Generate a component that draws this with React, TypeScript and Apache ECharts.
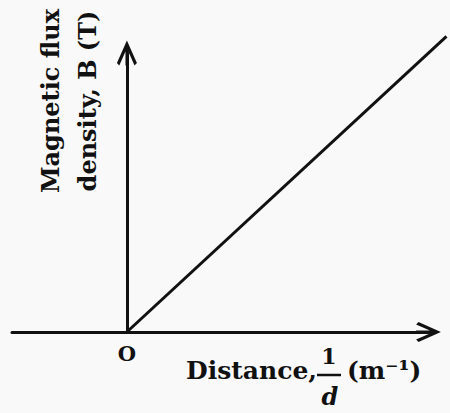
import React, { useEffect, useRef } from "react";
import * as echarts from "echarts";

// Straight-line relation B ∝ 1/d, drawn from the origin
const distanceInv: number[] = [0, 10.6];
const fluxDensity: number[] = [0, 10.6];

// Visible axes (arbitrary units)
const xRange: number[] = [-3.81, 10];
const yRange: number[] = [0, 10];
// The plotted line runs a little past the arrow heads, so it sits on a
// slightly larger, hidden grid that keeps the same scale per unit.
const lineXRange: number[] = [-3.81, 10.65];
const lineYRange: number[] = [0, 10.65];

const yTitleLines: string[] = ["Magnetic flux", "density, B (T)"];
const xTitle = "Distance,";
const xTitleNumerator = "1";
const xTitleDenominator = "d";
const xTitleUnit = "(m\u207B\u00B9)";
const originLabel = "O";

const INK = "#111111";
const SERIF = "'DejaVu Serif', 'Liberation Serif', serif";

// Open arrow head with a stem, pointing up (rotated by the axis)
const ARROW =
  "path://M10 0 L20.5 23.5 L18 26 L10 8 L2 26 L-0.5 23.5 Z M8.5 4 L11.5 4 L11.5 26 L8.5 26 Z";

const hiddenAxis = {
  show: false,
  splitLine: { show: false },
};

export default function App() {
  const ref = useRef<HTMLDivElement>(null);

  useEffect(() => {
    if (!ref.current) return;
    const chart = echarts.init(ref.current, null, { renderer: "svg" });
    const points = distanceInv.map((x, i) => [x, fluxDensity[i]]);

    chart.setOption({
      animation: false,
      backgroundColor: "#f9f9f9",
      grid: [
        { left: 12, right: 21.5, top: 53, bottom: 81 },
        { left: 12, right: 2, top: 35, bottom: 81 },
      ],
      xAxis: [
        {
          type: "value",
          gridIndex: 0,
          min: xRange[0],
          max: xRange[1],
          splitLine: { show: false },
          axisTick: { show: false },
          axisLine: {
            onZero: true,
            lineStyle: { color: INK, width: 3 },
            symbol: ["none", ARROW],
            symbolSize: [20, 27],
          },
          axisLabel: {
            customValues: [0],
            formatter: () => originLabel,
            color: INK,
            fontFamily: SERIF,
            fontWeight: "bold",
            fontSize: 21,
            margin: 11,
          },
        },
        {
          type: "value",
          gridIndex: 1,
          min: lineXRange[0],
          max: lineXRange[1],
          ...hiddenAxis,
        },
      ],
      yAxis: [
        {
          type: "value",
          gridIndex: 0,
          min: yRange[0],
          max: yRange[1],
          splitLine: { show: false },
          axisTick: { show: false },
          axisLabel: { show: false },
          axisLine: {
            onZero: true,
            lineStyle: { color: INK, width: 3 },
            symbol: ["none", ARROW],
            symbolSize: [20, 26],
          },
        },
        {
          type: "value",
          gridIndex: 1,
          min: lineYRange[0],
          max: lineYRange[1],
          ...hiddenAxis,
        },
      ],
      series: [
        {
          type: "line",
          xAxisIndex: 1,
          yAxisIndex: 1,
          data: points,
          symbol: "none",
          clip: false,
          lineStyle: { color: INK, width: 3 },
        },
      ],
      graphic: [
        ...yTitleLines.map((t, i) => ({
          type: "text",
          x: 50 + i * 37,
          y: 101,
          rotation: Math.PI / 2,
          style: {
            text: t,
            fill: INK,
            font: `bold 24px ${SERIF}`,
            textAlign: "center",
            textVerticalAlign: "middle",
          },
        })),
        {
          type: "text",
          x: 186,
          y: 370,
          style: {
            text: xTitle,
            fill: INK,
            font: `bold 25px ${SERIF}`,
            textAlign: "left",
            textVerticalAlign: "middle",
          },
        },
        {
          type: "text",
          x: 329,
          y: 356,
          style: {
            text: xTitleNumerator,
            fill: INK,
            font: `bold 22px ${SERIF}`,
            textAlign: "center",
            textVerticalAlign: "middle",
          },
        },
        {
          type: "line",
          shape: { x1: 317, y1: 375, x2: 341, y2: 375 },
          style: { stroke: INK, lineWidth: 2.5 },
        },
        {
          type: "text",
          x: 330,
          y: 396,
          style: {
            text: xTitleDenominator,
            fill: INK,
            font: `italic bold 24px ${SERIF}`,
            textAlign: "center",
            textVerticalAlign: "middle",
          },
        },
        {
          type: "text",
          x: 347,
          y: 370,
          style: {
            text: xTitleUnit,
            fill: INK,
            font: `bold 25px ${SERIF}`,
            textAlign: "left",
            textVerticalAlign: "middle",
          },
        },
      ],
    });

    return () => chart.dispose();
  }, []);

  return (
    <div
      ref={ref}
      style={{ position: "fixed", left: 0, top: 0, width: 450, height: 413 }}
    />
  );
}
